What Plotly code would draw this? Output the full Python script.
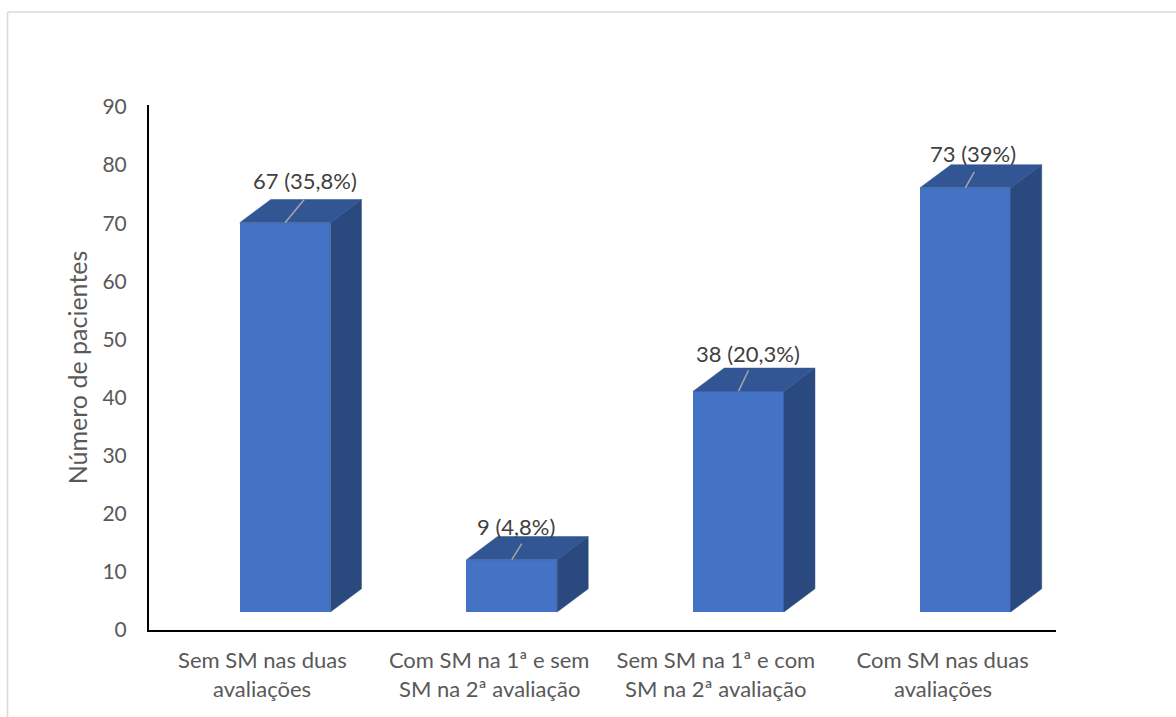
import plotly.graph_objects as go

# Chart values
category_first_lines = ["Sem SM nas duas", "Com SM na 1ª e sem", "Sem SM na 1ª e com", "Com SM nas duas"]
category_second_lines = ["avaliações", "SM na 2ª avaliação", "SM na 2ª avaliação", "avaliações"]
patients = [67, 9, 38, 73]
value_labels = ["67 (35,8%)", "9 (4,8%)", "38 (20,3%)", "73 (39%)"]
y_ticks = [0, 10, 20, 30, 40, 50, 60, 70, 80, 90]

# Geometry of the pseudo-3D columns, in axis units
FLOOR = 3.1
BAR_WIDTH = 0.4
BAR_SHIFT = 0.1
DEPTH_X = 0.137
DEPTH_Y = 3.98

# Plot area in pixels
W, H = 1176, 717
LEFT, RIGHT, TOP, BOTTOM = 149, 1056, 105, 630

FONT = "Lato"
TEXT_GREY = "#595959"
LABEL_GREY = "#404040"
FRONT = "#4472C4"
ROOF = "#325694"
SIDE = "#2A4A7F"
FRAME = "#D9D9D9"

positions = [i + BAR_SHIFT for i in range(len(patients))]
lefts = [p - BAR_WIDTH / 2 for p in positions]
rights = [p + BAR_WIDTH / 2 for p in positions]
tops = [v + FLOOR for v in patients]


def polygons(corner_lists):
    xs, ys = [], []
    for corners in corner_lists:
        for cx, cy in corners + corners[:1]:
            xs.append(cx)
            ys.append(cy)
        xs.append(None)
        ys.append(None)
    return xs, ys


roof_x, roof_y = polygons([
    [(l, t), (r, t), (r + DEPTH_X, t + DEPTH_Y), (l + DEPTH_X, t + DEPTH_Y)]
    for l, r, t in zip(lefts, rights, tops)
])
side_x, side_y = polygons([
    [(r, FLOOR), (r + DEPTH_X, FLOOR + DEPTH_Y), (r + DEPTH_X, t + DEPTH_Y), (r, t)]
    for r, t in zip(rights, tops)
])

fig = go.Figure()

fig.add_trace(go.Bar(
    x=positions, y=patients, base=FLOOR, width=BAR_WIDTH,
    marker=dict(color=FRONT, line=dict(width=0)), showlegend=False,
))
for xs, ys, colour in ((side_x, side_y, SIDE), (roof_x, roof_y, ROOF)):
    fig.add_trace(go.Scatter(
        x=xs, y=ys, mode="lines", fill="toself", fillcolor=colour,
        line=dict(color=colour, width=0.5), showlegend=False, hoverinfo="skip",
    ))

# Leader lines joining each column to its value label
leader_reach_x = [0.0845, 0.044, 0.044, 0.04]
leader_reach_y = [3.98, 2.75, 3.6, 2.75]
lead_x, lead_y = [], []
for p, t, dx, dy in zip(positions, tops, leader_reach_x, leader_reach_y):
    lead_x += [p, p + dx, None]
    lead_y += [t, t + dy, None]
fig.add_trace(go.Scatter(
    x=lead_x, y=lead_y, mode="lines",
    line=dict(color="#A6A6A6", width=1.5), showlegend=False, hoverinfo="skip",
))

annotations = []
label_shift_x = [19.5, 4, 9, 8]
label_shift_y = [42, 33, 38, 34]
for p, t, text, sx, sy in zip(positions, tops, value_labels, label_shift_x, label_shift_y):
    annotations.append(dict(
        x=p, y=t, xref="x", yref="y", text=text, showarrow=False,
        xshift=sx, yshift=sy, font=dict(family=FONT, size=22, color=LABEL_GREY),
    ))
for i, text in enumerate(category_second_lines):
    annotations.append(dict(
        x=i, y=0, xref="x", yref="paper", text=text, showarrow=False,
        yanchor="middle", yshift=-58.5, font=dict(family=FONT, size=22, color=TEXT_GREY),
    ))

# Thin frame around the chart area, running off the page on the open sides
to_x = lambda px: (px - LEFT) / (RIGHT - LEFT)
to_y = lambda py: (BOTTOM - py) / (BOTTOM - TOP)
frame_style = dict(color=FRAME, width=1.6)
shapes = [
    dict(type="line", xref="paper", yref="paper", x0=to_x(7.5), x1=to_x(7.5),
         y0=to_y(12), y1=to_y(H + 5), line=frame_style),
    dict(type="line", xref="paper", yref="paper", x0=to_x(7.5), x1=to_x(W + 5),
         y0=to_y(12), y1=to_y(12), line=frame_style),
]

fig.update_layout(
    width=W, height=H,
    margin=dict(l=LEFT, r=W - RIGHT, t=TOP, b=H - BOTTOM, pad=0, autoexpand=False),
    paper_bgcolor="white", plot_bgcolor="white",
    bargap=0, showlegend=False,
    annotations=annotations, shapes=shapes,
    font=dict(family=FONT, color=TEXT_GREY, size=22),
    xaxis=dict(
        range=[-0.5, 3.5], tickmode="array", tickvals=list(range(len(patients))),
        ticktext=category_first_lines, ticks="", showgrid=False, zeroline=False,
        showline=True, linecolor="black", linewidth=2, ticklabelstandoff=10,
        tickangle=0, tickfont=dict(family=FONT, size=22, color=TEXT_GREY),
    ),
    yaxis=dict(
        range=[0, 90.35], tickmode="array", tickvals=y_ticks, ticks="",
        showgrid=False, zeroline=False, showline=True, linecolor="black", linewidth=2,
        ticklabelstandoff=16, tickfont=dict(family=FONT, size=21, color=TEXT_GREY),
        title=dict(text="Número de pacientes", standoff=8,
                   font=dict(family=FONT, size=25, color=TEXT_GREY)),
    ),
)

fig.write_html("out.html")
